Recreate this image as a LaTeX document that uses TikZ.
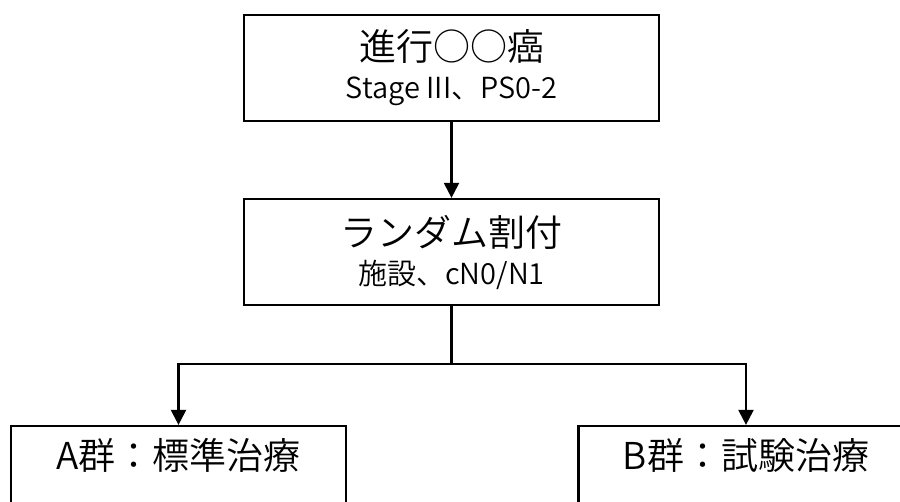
\documentclass[tikz,border=0pt]{standalone}
\usepackage{fontspec}
\IfFontExistsTF{Noto Sans CJK JP DemiLight}
  {\setmainfont{Noto Sans CJK JP DemiLight}}
  {\IfFontExistsTF{Noto Sans CJK JP Light}
    {\setmainfont{Noto Sans CJK JP Light}}
    {\setmainfont{Noto Sans CJK JP}}}
\usetikzlibrary{arrows.meta,positioning}
\begin{document}
\begin{tikzpicture}[x=1pt,y=-1pt,
    box/.style={draw,line width=2.2pt,minimum width=415pt,minimum height=106pt,
      align=center,inner sep=0pt,font=\fontsize{29}{38}\selectfont},
    link/.style={line width=2.2pt},
    arrow/.style={link,-{Triangle[length=15pt,width=15pt]}}]
  \useasboundingbox (0,0) rectangle (900,502);
  \clip (0,0) rectangle (900,502);
  \node[box] (trial) at (451.5,68)
    {{\fontsize{37}{38}\selectfont 進行○○癌}\\Stage III、PS0-2};
  \node[box] (rand) at (451.5,252)
    {{\fontsize{37}{38}\selectfont ランダム割付}\\施設、cN0/N1};
  \node[box,minimum width=335pt] (armA) at (178.5,479)
    {{\fontsize{37}{38}\selectfont A群：標準治療}\\ \strut};
  \node[box,minimum width=335pt] (armB) at (746,479)
    {{\fontsize{37}{38}\selectfont B群：試験治療}\\ \strut};
  \coordinate (split) at (451.5,364);
  \draw[arrow] (trial) -- (rand);
  \draw[link] (rand) -- (split);
  \draw[arrow] (split) -| (armA);
  \draw[arrow] (split) -| (armB);
\end{tikzpicture}
\end{document}
